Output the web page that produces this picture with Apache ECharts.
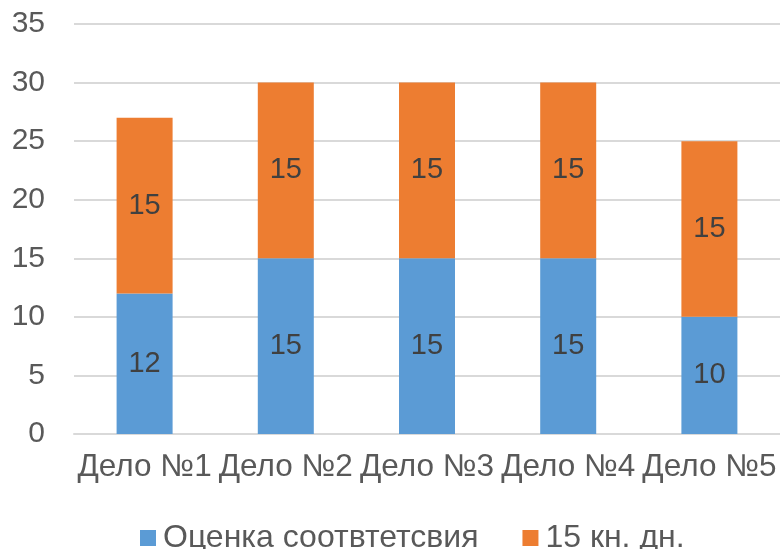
<!DOCTYPE html>
<html>
<head>
<meta charset="utf-8">
<script src="https://cdn.jsdelivr.net/npm/echarts@6/dist/echarts.min.js"></script>
<style>
  html, body { margin: 0; padding: 0; background: #fff; }
  #chart { width: 780px; height: 549px; }
</style>
</head>
<body>
<div id="chart"></div>
<script>
// категории и значения
var cases = ["Дело №1", "Дело №2", "Дело №3", "Дело №4", "Дело №5"];
var ocenka = [12, 15, 15, 15, 10];
var days15 = [15, 15, 15, 15, 15];
var seriesNames = ["Оценка соотвтетсвия", "15 кн. дн."];

var fontFam = "'Liberation Sans', Arial, sans-serif";
var myChart = echarts.init(document.getElementById("chart"));

var labelStyle = {
  show: true,
  position: "inside",
  color: "#404040",
  fontSize: 29,
  fontFamily: fontFam
};

var option = {
  animation: false,
  color: ["#5B9BD5", "#ED7D31"],
  grid: { left: 74, right: 0, top: 24, bottom: 115 },
  legend: {
    top: 517,
    left: 135,
    itemWidth: 16,
    itemHeight: 16,
    itemGap: 44,
    icon: "rect",
    textStyle: { color: "#595959", fontSize: 32, fontFamily: fontFam, padding: [0, 0, 0, 2] },
    data: seriesNames
  },
  xAxis: {
    type: "category",
    data: cases,
    axisTick: { show: false },
    axisLine: { lineStyle: { color: "#D9D9D9", width: 2 } },
    axisLabel: { color: "#595959", fontSize: 31.5, fontFamily: fontFam, margin: 17, interval: 0 }
  },
  yAxis: {
    type: "value",
    min: 0,
    max: 35,
    interval: 5,
    axisLine: { show: false },
    axisTick: { show: false },
    splitLine: { lineStyle: { color: "#D9D9D9", width: 2 } },
    axisLabel: { color: "#595959", fontSize: 30, fontFamily: fontFam, margin: 29 }
  },
  series: [
    {
      name: seriesNames[0],
      type: "bar",
      stack: "total",
      barWidth: 56,
      data: ocenka,
      label: labelStyle
    },
    {
      name: seriesNames[1],
      type: "bar",
      stack: "total",
      barWidth: 56,
      data: days15,
      label: labelStyle
    }
  ]
};
myChart.setOption(option);
</script>
</body>
</html>
